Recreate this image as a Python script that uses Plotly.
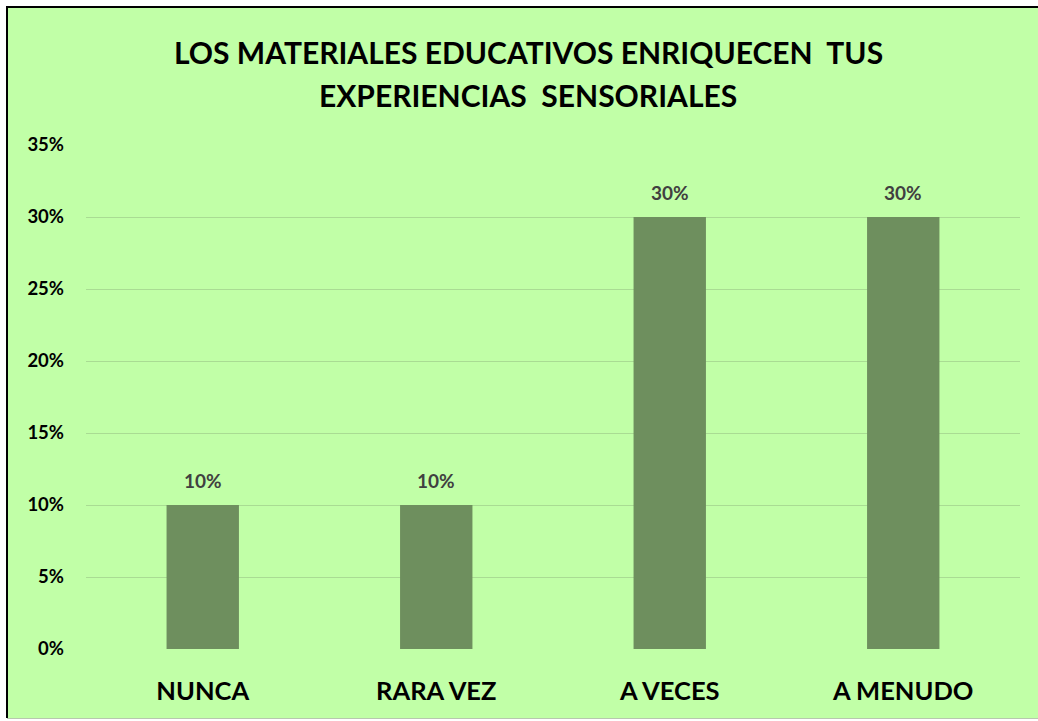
import plotly.graph_objects as go

categories = ["NUNCA", "RARA VEZ", "A VECES", "A MENUDO"]
values = [0.10, 0.10, 0.30, 0.30]
tick_vals = [0, 0.05, 0.10, 0.15, 0.20, 0.25, 0.30, 0.35]
tick_text = ["0%", "5%", "10%", "15%", "20%", "25%", "30%", "35%"]
title_lines = ["LOS MATERIALES EDUCATIVOS ENRIQUECEN  TUS", "EXPERIENCIAS  SENSORIALES"]

W, H = 1038, 721
L, R, T, B = 86, 18, 145, 72
pw, ph = W - L - R, H - T - B


def px_x(sx):
    return (sx - L) / pw


def px_y(sy):
    return (H - B - sy) / ph


GREEN = "#C1FFA7"
BAR = "#6E8F5E"
FONT = "Lato"

fig = go.Figure()
fig.add_trace(go.Bar(
    x=categories, y=values, marker=dict(color=BAR, line=dict(width=0)),
    width=0.31, hoverinfo="skip",
))

for c, v in zip(categories, values):
    fig.add_annotation(
        x=c, y=v, text="<b>%d%%</b>" % round(v * 100), showarrow=False,
        yshift=25, font=dict(family=FONT, size=19, color="#404040"),
    )

title_y = [52, 95]
for line, sy in zip(title_lines, title_y):
    fig.add_annotation(
        x=px_x(528), y=px_y(sy), xref="paper", yref="paper",
        xanchor="center", yanchor="middle", showarrow=False,
        text="<b>%s</b>" % line,
        font=dict(family=FONT, size=30, color="black"),
    )

shapes = [
    dict(type="rect", xref="paper", yref="paper", x0=px_x(7), x1=px_x(1040),
         y0=px_y(718), y1=px_y(7), fillcolor=GREEN, line=dict(width=0), layer="below"),
    dict(type="line", xref="paper", yref="paper", x0=px_x(7), x1=px_x(7),
         y0=px_y(718), y1=px_y(6), line=dict(color="black", width=2), layer="below"),
    dict(type="line", xref="paper", yref="paper", x0=px_x(6), x1=px_x(1040),
         y0=px_y(7), y1=px_y(7), line=dict(color="black", width=2), layer="below"),
    dict(type="line", xref="paper", yref="paper", x0=px_x(7), x1=px_x(1040),
         y0=px_y(718.5), y1=px_y(718.5), line=dict(color="#B8C8B0", width=1), layer="below"),
]

fig.update_layout(
    width=W, height=H,
    margin=dict(l=L, r=R, t=T, b=B, pad=0),
    paper_bgcolor="white", plot_bgcolor=GREEN,
    shapes=shapes,
    showlegend=False,
    hovermode=False,
    xaxis=dict(
        type="category", showgrid=False, zeroline=False, showline=False,
        ticks="", tickfont=dict(family=FONT, size=25.5, color="black"),
        tickvals=categories, ticktext=["<b>%s</b>" % c for c in categories],
        ticklabelstandoff=24,
    ),
    yaxis=dict(
        range=[0, 0.35], tickvals=tick_vals, ticktext=["<b>%s</b>" % t for t in tick_text],
        showgrid=True, gridcolor="#A9DC93", gridwidth=1, zeroline=False,
        showline=False, ticks="", tickfont=dict(family=FONT, size=18.5, color="black"),
        ticklabelstandoff=21,
    ),
)

fig.write_html(
    "out.html",
    config={"displayModeBar": False},
    post_script="document.body.style.margin='0';document.body.style.overflow='hidden';",
)
